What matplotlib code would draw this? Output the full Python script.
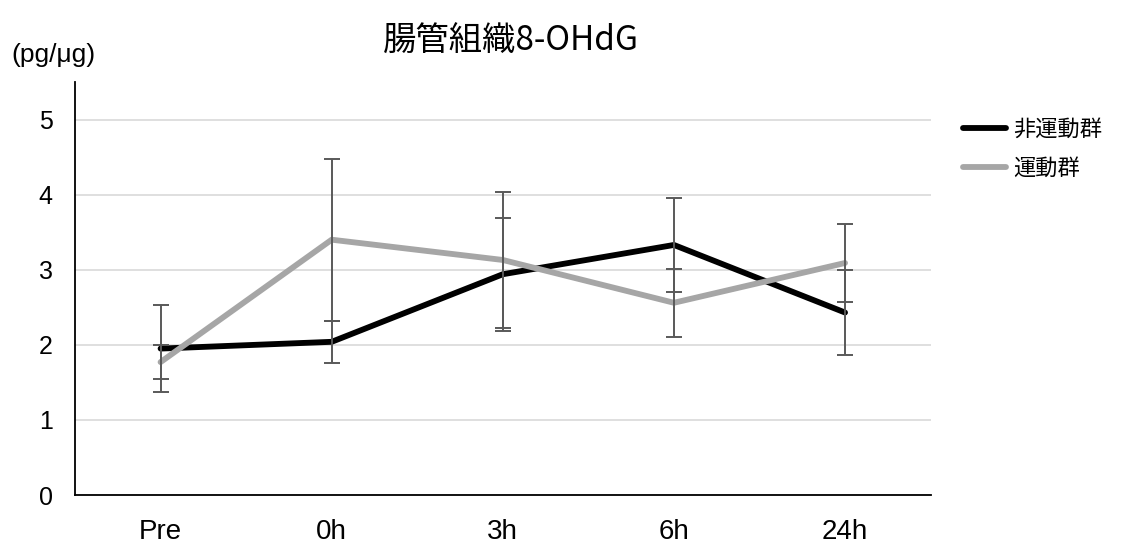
import matplotlib
matplotlib.use("Agg")
import matplotlib.pyplot as plt
import numpy as np

categories = ["Pre", "0h", "3h", "6h", "24h"]
sedentary = [1.95, 2.04, 2.94, 3.33, 2.43]
sedentary_err = [0.58, 0.28, 0.75, 0.62, 0.57]
exercise = [1.77, 3.40, 3.13, 2.56, 3.09]
exercise_err = [0.23, 1.08, 0.90, 0.45, 0.52]
yticks = [0, 1, 2, 3, 4, 5]

fig = plt.figure(figsize=(11.28, 5.46), dpi=100)
ax = fig.add_axes([0.0665, 0.0934, 0.7585, 0.7564])

x = np.arange(len(categories))
ax.plot(x, sedentary, color="black", lw=4.2, solid_capstyle="round",
        solid_joinstyle="round", zorder=3, label="非運動群")
ax.plot(x, exercise, color="#a6a6a6", lw=4.2, solid_capstyle="round",
        solid_joinstyle="round", zorder=3, label="運動群")
for vals, errs in ((sedentary, sedentary_err), (exercise, exercise_err)):
    ax.errorbar(x, vals, yerr=errs, fmt="none", ecolor="#595959", elinewidth=1.4,
                capsize=6, capthick=1.4, zorder=4)

ax.set_xlim(-0.5, len(categories) - 0.5)
ax.set_ylim(0, 5.5)
ax.set_yticks(yticks)
ax.set_xticks(x)
ax.set_xticklabels(categories)
ax.tick_params(axis="x", length=0, labelsize=20, pad=17)
ax.tick_params(axis="y", length=0, labelsize=18, pad=16)
for lab in ax.get_xticklabels() + ax.get_yticklabels():
    lab.set_fontfamily("Liberation Sans")
ax.yaxis.grid(True, color="#d9d9d9", lw=1.2)
ax.set_axisbelow(True)
for s in ("top", "right"):
    ax.spines[s].set_visible(False)
for s in ("left", "bottom"):
    ax.spines[s].set_color("black")
    ax.spines[s].set_linewidth(1.3)

fig.text(0.453, 0.925, "腸管組織8-OHdG", ha="center", va="center", fontsize=24,
         family=["Noto Sans CJK JP", "DejaVu Sans"])
fig.text(0.010, 0.899, "(pg/μg)", ha="left", va="center", fontsize=19,
         family="Liberation Sans")

leg = fig.legend(loc="upper left", bbox_to_anchor=(0.854, 0.784), frameon=False,
                 borderpad=0, borderaxespad=0,
                 handlelength=1.9, handletextpad=0.35, labelspacing=0.73,
                 prop={"family": "Noto Sans CJK JP", "size": 16})

fig.savefig("out.png", dpi=100)
